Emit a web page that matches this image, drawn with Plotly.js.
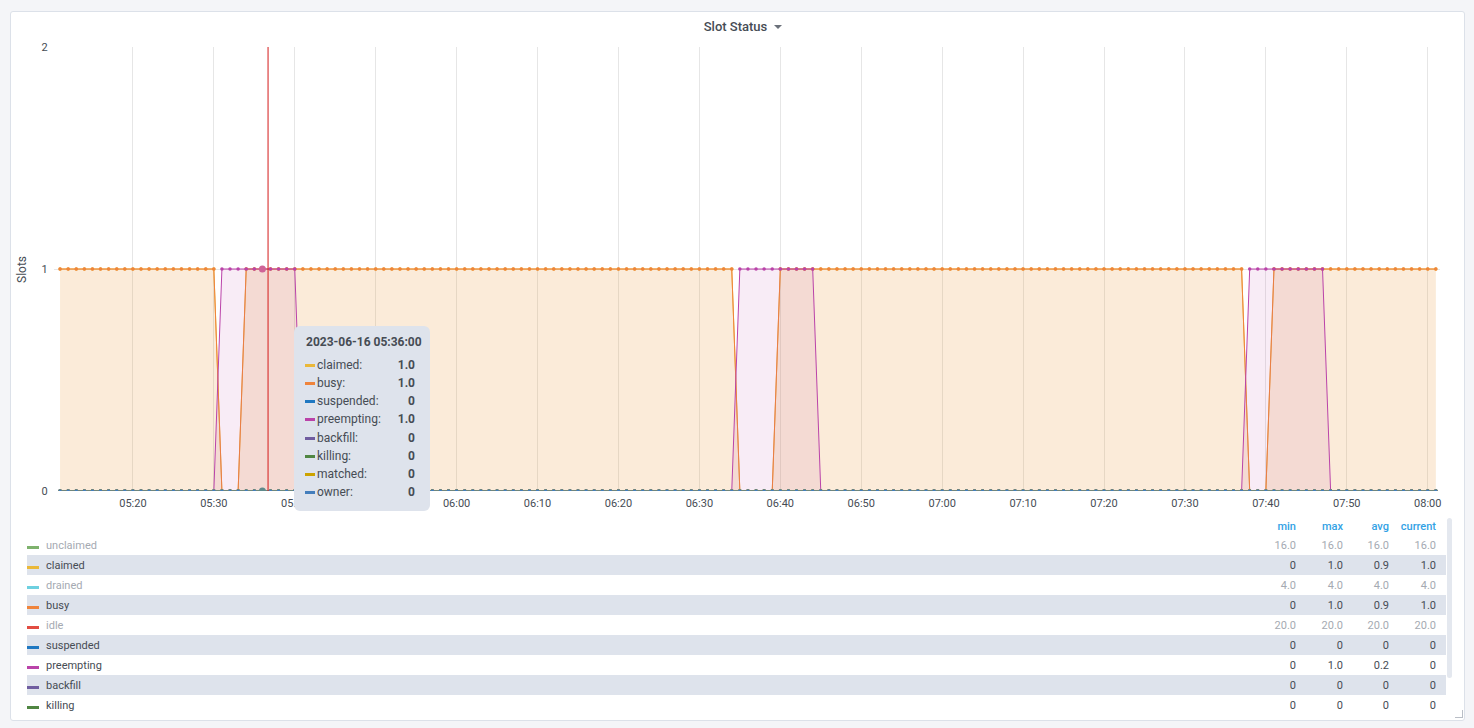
<!DOCTYPE html>
<html>
<head>
<meta charset="utf-8">
<script src="https://cdn.plot.ly/plotly-3.0.1.min.js"></script>
<style>
  html, body { margin:0; padding:0; background:#f4f5f8; width:1474px; height:728px; overflow:hidden; font-family: Roboto, "Open Sans", sans-serif; }
  #panel { position:absolute; left:10px; top:11px; width:1453px; height:708px; background:#fff; border:1px solid #dce1e9; border-radius:3px; }
  #chart { position:absolute; left:0; top:0; width:1474px; height:728px; }
  #title { position:absolute; left:6px; width:1474px; top:19px; text-align:center; font-size:13px; font-weight:500; color:#464c54; }
  #title .caret { display:inline-block; width:0; height:0; border-left:4px solid transparent; border-right:4px solid transparent; border-top:4px solid #6b717a; margin-left:7px; vertical-align:middle; position:relative; top:-1px; }
  #tooltip { position:absolute; left:294px; top:326px; width:136px; height:185px; background:#dee3ec; border-radius:6px; color:#464c54; font-size:12px; z-index:10; }
  #tooltip .head { position:absolute; left:12px; top:9px; font-weight:700; font-size:12px; }
  #tooltip .row { position:absolute; left:11px; width:110px; height:16px; line-height:16px; }
  #tooltip .sw { position:absolute; left:0; top:7px; width:10px; height:3px; }
  #tooltip .lb { position:absolute; left:12px; top:0; }
  #tooltip .vl { position:absolute; right:0; top:0; font-weight:700; }
  #legend { position:absolute; left:27px; top:517px; width:1420px; height:198px; overflow:hidden; font-size:11px; z-index:5; }
  #legend .hdr { position:absolute; top:3px; color:#33a2e5; font-weight:500; text-align:right; }
  #legend .lrow { position:absolute; left:0; width:1419px; height:20px; line-height:20px; }
  #legend .lrow.stripe { background:#dee3ec; }
  #legend .lsw { position:absolute; left:0; top:11px; width:12px; height:3px; }
  #legend .lname { position:absolute; left:19px; top:1px; }
  #legend .num { position:absolute; top:1px; text-align:right; width:60px; }
  #scroll { position:absolute; left:1447px; top:518px; width:5px; height:160px; background:#e4e8ef; border-radius:3px; z-index:6; }
  #grip { position:absolute; left:1455px; top:710px; width:7px; height:7px; border-right:1px solid #b9bec6; border-bottom:1px solid #b9bec6; z-index:6; }
</style>
</head>
<body>
<div id="panel"></div>
<div id="chart"></div>
<div id="title">Slot Status<span class="caret"></span></div>
<div id="tooltip"></div>
<div id="legend"></div>
<div id="scroll"></div>
<div id="grip"></div>
<script>
// ---- sample grid: one point per minute starting 2023-06-16 05:11 ----
const datePrefix = '2023-06-16 ';
const startMinuteOfDay = 5 * 60 + 11;
const sampleCount = 171;

// ---- series names, colours, visibility ----
const seriesNames = ['unclaimed','claimed','drained','busy','idle','suspended','preempting','backfill','killing','matched','owner'];
const seriesColors = ['#7EB26D','#EAB839','#6ED0E0','#EF843C','#E24D42','#1F78C1','#BA43A9','#705DA0','#508642','#CCA300','#447EBC'];
const seriesHidden = [true,false,true,false,true,false,false,false,false,false,false];
// rows visible in the (scrolled) legend table
const legendRows = ['unclaimed','claimed','drained','busy','idle','suspended','preempting','backfill','killing'];

// ---- series values (per minute) ----
const unclaimed = [
16,16,16,16,16,16,16,16,16,16, 16,16,16,16,16,16,16,16,16,16, 16,16,16,16,16,16,16,16,16,16,
16,16,16,16,16,16,16,16,16,16, 16,16,16,16,16,16,16,16,16,16, 16,16,16,16,16,16,16,16,16,16,
16,16,16,16,16,16,16,16,16,16, 16,16,16,16,16,16,16,16,16,16, 16,16,16,16,16,16,16,16,16,16,
16,16,16,16,16,16,16,16,16,16, 16,16,16,16,16,16,16,16,16,16, 16,16,16,16,16,16,16,16,16,16,
16,16,16,16,16,16,16,16,16,16, 16,16,16,16,16,16,16,16,16,16, 16,16,16,16,16,16,16,16,16,16,
16,16,16,16,16,16,16,16,16,16, 16,16,16,16,16,16,16,16,16,16, 16];
const claimed = [
1,1,1,1,1,1,1,1,1,1, 1,1,1,1,1,1,1,1,1,1, 0,0,0,1,1,1,1,1,1,1,
1,1,1,1,1,1,1,1,1,1, 1,1,1,1,1,1,1,1,1,1, 1,1,1,1,1,1,1,1,1,1,
1,1,1,1,1,1,1,1,1,1, 1,1,1,1,1,1,1,1,1,1, 1,1,1,1,0,0,0,0,0,1,
1,1,1,1,1,1,1,1,1,1, 1,1,1,1,1,1,1,1,1,1, 1,1,1,1,1,1,1,1,1,1,
1,1,1,1,1,1,1,1,1,1, 1,1,1,1,1,1,1,1,1,1, 1,1,1,1,1,1,1,0,0,0,
1,1,1,1,1,1,1,1,1,1, 1,1,1,1,1,1,1,1,1,1, 1];
const drained = [
4,4,4,4,4,4,4,4,4,4, 4,4,4,4,4,4,4,4,4,4, 4,4,4,4,4,4,4,4,4,4,
4,4,4,4,4,4,4,4,4,4, 4,4,4,4,4,4,4,4,4,4, 4,4,4,4,4,4,4,4,4,4,
4,4,4,4,4,4,4,4,4,4, 4,4,4,4,4,4,4,4,4,4, 4,4,4,4,4,4,4,4,4,4,
4,4,4,4,4,4,4,4,4,4, 4,4,4,4,4,4,4,4,4,4, 4,4,4,4,4,4,4,4,4,4,
4,4,4,4,4,4,4,4,4,4, 4,4,4,4,4,4,4,4,4,4, 4,4,4,4,4,4,4,4,4,4,
4,4,4,4,4,4,4,4,4,4, 4,4,4,4,4,4,4,4,4,4, 4];
const busy = [
1,1,1,1,1,1,1,1,1,1, 1,1,1,1,1,1,1,1,1,1, 0,0,0,1,1,1,1,1,1,1,
1,1,1,1,1,1,1,1,1,1, 1,1,1,1,1,1,1,1,1,1, 1,1,1,1,1,1,1,1,1,1,
1,1,1,1,1,1,1,1,1,1, 1,1,1,1,1,1,1,1,1,1, 1,1,1,1,0,0,0,0,0,1,
1,1,1,1,1,1,1,1,1,1, 1,1,1,1,1,1,1,1,1,1, 1,1,1,1,1,1,1,1,1,1,
1,1,1,1,1,1,1,1,1,1, 1,1,1,1,1,1,1,1,1,1, 1,1,1,1,1,1,1,0,0,0,
1,1,1,1,1,1,1,1,1,1, 1,1,1,1,1,1,1,1,1,1, 1];
const idle = [
20,20,20,20,20,20,20,20,20,20, 20,20,20,20,20,20,20,20,20,20, 20,20,20,20,20,20,20,20,20,20,
20,20,20,20,20,20,20,20,20,20, 20,20,20,20,20,20,20,20,20,20, 20,20,20,20,20,20,20,20,20,20,
20,20,20,20,20,20,20,20,20,20, 20,20,20,20,20,20,20,20,20,20, 20,20,20,20,20,20,20,20,20,20,
20,20,20,20,20,20,20,20,20,20, 20,20,20,20,20,20,20,20,20,20, 20,20,20,20,20,20,20,20,20,20,
20,20,20,20,20,20,20,20,20,20, 20,20,20,20,20,20,20,20,20,20, 20,20,20,20,20,20,20,20,20,20,
20,20,20,20,20,20,20,20,20,20, 20,20,20,20,20,20,20,20,20,20, 20];
const suspended = [
0,0,0,0,0,0,0,0,0,0, 0,0,0,0,0,0,0,0,0,0, 0,0,0,0,0,0,0,0,0,0,
0,0,0,0,0,0,0,0,0,0, 0,0,0,0,0,0,0,0,0,0, 0,0,0,0,0,0,0,0,0,0,
0,0,0,0,0,0,0,0,0,0, 0,0,0,0,0,0,0,0,0,0, 0,0,0,0,0,0,0,0,0,0,
0,0,0,0,0,0,0,0,0,0, 0,0,0,0,0,0,0,0,0,0, 0,0,0,0,0,0,0,0,0,0,
0,0,0,0,0,0,0,0,0,0, 0,0,0,0,0,0,0,0,0,0, 0,0,0,0,0,0,0,0,0,0,
0,0,0,0,0,0,0,0,0,0, 0,0,0,0,0,0,0,0,0,0, 0];
const preempting = [
0,0,0,0,0,0,0,0,0,0, 0,0,0,0,0,0,0,0,0,0, 1,1,1,1,1,1,1,1,1,1,
0,0,0,0,0,0,0,0,0,0, 0,0,0,0,0,0,0,0,0,0, 0,0,0,0,0,0,0,0,0,0,
0,0,0,0,0,0,0,0,0,0, 0,0,0,0,0,0,0,0,0,0, 0,0,0,0,1,1,1,1,1,1,
1,1,1,1,0,0,0,0,0,0, 0,0,0,0,0,0,0,0,0,0, 0,0,0,0,0,0,0,0,0,0,
0,0,0,0,0,0,0,0,0,0, 0,0,0,0,0,0,0,0,0,0, 0,0,0,0,0,0,0,1,1,1,
1,1,1,1,1,1,1,0,0,0, 0,0,0,0,0,0,0,0,0,0, 0];
const backfill = [
0,0,0,0,0,0,0,0,0,0, 0,0,0,0,0,0,0,0,0,0, 0,0,0,0,0,0,0,0,0,0,
0,0,0,0,0,0,0,0,0,0, 0,0,0,0,0,0,0,0,0,0, 0,0,0,0,0,0,0,0,0,0,
0,0,0,0,0,0,0,0,0,0, 0,0,0,0,0,0,0,0,0,0, 0,0,0,0,0,0,0,0,0,0,
0,0,0,0,0,0,0,0,0,0, 0,0,0,0,0,0,0,0,0,0, 0,0,0,0,0,0,0,0,0,0,
0,0,0,0,0,0,0,0,0,0, 0,0,0,0,0,0,0,0,0,0, 0,0,0,0,0,0,0,0,0,0,
0,0,0,0,0,0,0,0,0,0, 0,0,0,0,0,0,0,0,0,0, 0];
const killing = [
0,0,0,0,0,0,0,0,0,0, 0,0,0,0,0,0,0,0,0,0, 0,0,0,0,0,0,0,0,0,0,
0,0,0,0,0,0,0,0,0,0, 0,0,0,0,0,0,0,0,0,0, 0,0,0,0,0,0,0,0,0,0,
0,0,0,0,0,0,0,0,0,0, 0,0,0,0,0,0,0,0,0,0, 0,0,0,0,0,0,0,0,0,0,
0,0,0,0,0,0,0,0,0,0, 0,0,0,0,0,0,0,0,0,0, 0,0,0,0,0,0,0,0,0,0,
0,0,0,0,0,0,0,0,0,0, 0,0,0,0,0,0,0,0,0,0, 0,0,0,0,0,0,0,0,0,0,
0,0,0,0,0,0,0,0,0,0, 0,0,0,0,0,0,0,0,0,0, 0];
const matched = [
0,0,0,0,0,0,0,0,0,0, 0,0,0,0,0,0,0,0,0,0, 0,0,0,0,0,0,0,0,0,0,
0,0,0,0,0,0,0,0,0,0, 0,0,0,0,0,0,0,0,0,0, 0,0,0,0,0,0,0,0,0,0,
0,0,0,0,0,0,0,0,0,0, 0,0,0,0,0,0,0,0,0,0, 0,0,0,0,0,0,0,0,0,0,
0,0,0,0,0,0,0,0,0,0, 0,0,0,0,0,0,0,0,0,0, 0,0,0,0,0,0,0,0,0,0,
0,0,0,0,0,0,0,0,0,0, 0,0,0,0,0,0,0,0,0,0, 0,0,0,0,0,0,0,0,0,0,
0,0,0,0,0,0,0,0,0,0, 0,0,0,0,0,0,0,0,0,0, 0];
const owner = [
0,0,0,0,0,0,0,0,0,0, 0,0,0,0,0,0,0,0,0,0, 0,0,0,0,0,0,0,0,0,0,
0,0,0,0,0,0,0,0,0,0, 0,0,0,0,0,0,0,0,0,0, 0,0,0,0,0,0,0,0,0,0,
0,0,0,0,0,0,0,0,0,0, 0,0,0,0,0,0,0,0,0,0, 0,0,0,0,0,0,0,0,0,0,
0,0,0,0,0,0,0,0,0,0, 0,0,0,0,0,0,0,0,0,0, 0,0,0,0,0,0,0,0,0,0,
0,0,0,0,0,0,0,0,0,0, 0,0,0,0,0,0,0,0,0,0, 0,0,0,0,0,0,0,0,0,0,
0,0,0,0,0,0,0,0,0,0, 0,0,0,0,0,0,0,0,0,0, 0];

const seriesData = {unclaimed, claimed, drained, busy, idle, suspended, preempting, backfill, killing, matched, owner};

// hovered sample and annotation marker time
const hoverTime = '2023-06-16 05:36:00';
const annotationTime = '2023-06-16 05:36:42';
const xRange = ['2023-06-16 05:10:15', '2023-06-16 08:01:31'];

function pad(n) { return (n < 10 ? '0' : '') + n; }
const times = [];
for (let i = 0; i < sampleCount; i++) {
  const t = startMinuteOfDay + i;
  times.push(datePrefix + pad(Math.floor(t / 60)) + ':' + pad(t % 60) + ':00');
}

function hexToRgba(hex, a) {
  const r = parseInt(hex.slice(1,3),16), g = parseInt(hex.slice(3,5),16), b = parseInt(hex.slice(5,7),16);
  return 'rgba(' + r + ',' + g + ',' + b + ',' + a + ')';
}

const traces = [];
seriesNames.forEach((name, k) => {
  if (seriesHidden[k]) return;
  traces.push({
    type: 'scatter', mode: 'lines+markers', name: name,
    x: times, y: seriesData[name],
    line: {color: seriesColors[k], width: 1},
    marker: {color: seriesColors[k], size: 3.5},
    fill: 'tozeroy', fillcolor: hexToRgba(seriesColors[k], 0.1),
    hoverinfo: 'skip'
  });
});
// hover highlight points at the hovered time
const hoverIdx = times.indexOf(hoverTime);
traces.push({
  type: 'scatter', mode: 'markers', x: [hoverTime, hoverTime],
  y: [preempting[hoverIdx], owner[hoverIdx]],
  marker: {size: 7, color: ['#cf6397', '#5f8b8c']},
  hoverinfo: 'skip'
});

const layout = {
  width: 1474, height: 728,
  margin: {l: 54, r: 34, t: 47, b: 237},
  paper_bgcolor: 'rgba(0,0,0,0)', plot_bgcolor: 'rgba(0,0,0,0)',
  showlegend: false,
  font: {family: 'Roboto, sans-serif', size: 11, color: '#464c54'},
  xaxis: {
    type: 'date', range: xRange, tickformat: '%H:%M', dtick: 600000, tick0: '2023-06-16 05:00:00',
    showgrid: true, gridcolor: '#e6e6e6', gridwidth: 1, zeroline: false, showline: false,
    ticks: 'outside', ticklen: 2, tickcolor: 'rgba(0,0,0,0)', tickfont: {size: 11, color: '#464c54'}
  },
  yaxis: {
    range: [0, 2], dtick: 1, tick0: 0, showgrid: true, gridcolor: '#e6e6e6', zeroline: false, showline: false,
    ticks: 'outside', ticklen: 3, tickcolor: 'rgba(0,0,0,0)', tickfont: {size: 11, color: '#464c54'}
  },
  shapes: [{type: 'line', xref: 'x', yref: 'paper', x0: annotationTime, x1: annotationTime, y0: 0, y1: 1,
            line: {color: '#d41a1a', width: 1}}],
  annotations: [{xref: 'paper', yref: 'paper', x: -0.0231, y: 0.5, text: 'Slots', textangle: -90,
                 showarrow: false, font: {size: 12, color: '#464c54'}, xanchor: 'center', yanchor: 'middle'}]
};

Plotly.newPlot('chart', traces, layout, {displayModeBar: false, staticPlot: true});

// ---- tooltip ----
function fmtVal(v) { return v === 0 ? '0' : v.toFixed(1); }
const tip = document.getElementById('tooltip');
let html = '<div class="head">' + hoverTime + '</div>';
let rowIdx = 0;
seriesNames.forEach((name, k) => {
  if (seriesHidden[k]) return;
  const top = 31 + rowIdx * 18.15;
  html += '<div class="row" style="top:' + top + 'px"><div class="sw" style="background:' + seriesColors[k] + '"></div>' +
          '<div class="lb">' + name + ':</div><div class="vl">' + fmtVal(seriesData[name][hoverIdx]) + '</div></div>';
  rowIdx++;
});
tip.innerHTML = html;

// ---- legend table ----
const leg = document.getElementById('legend');
const colRight = [1269, 1316, 1362, 1409]; // right edges relative to legend container
const colHead = ['min', 'max', 'avg', 'current'];
let lh = '';
colHead.forEach((h, c) => {
  lh += '<div class="hdr" style="left:' + (colRight[c] - 60) + 'px;width:60px">' + h + '</div>';
});
legendRows.forEach((name, i) => {
  const k = seriesNames.indexOf(name);
  const d = seriesData[name];
  const mn = Math.min.apply(null, d), mx = Math.max.apply(null, d);
  const avg = d.reduce((a, b) => a + b, 0) / d.length, cur = d[d.length - 1];
  const color = seriesHidden[k] ? '#a5aab2' : '#464c54';
  const stripe = (i % 2 === 1) ? ' stripe' : '';
  lh += '<div class="lrow' + stripe + '" style="top:' + (18 + i * 20) + 'px;color:' + color + '">' +
        '<div class="lsw" style="background:' + seriesColors[k] + '"></div>' +
        '<div class="lname">' + name + '</div>';
  [mn, mx, avg, cur].forEach((v, c) => {
    lh += '<div class="num" style="left:' + (colRight[c] - 60) + 'px">' + fmtVal(v) + '</div>';
  });
  lh += '</div>';
});
leg.innerHTML = lh;
</script>
</body>
</html>
